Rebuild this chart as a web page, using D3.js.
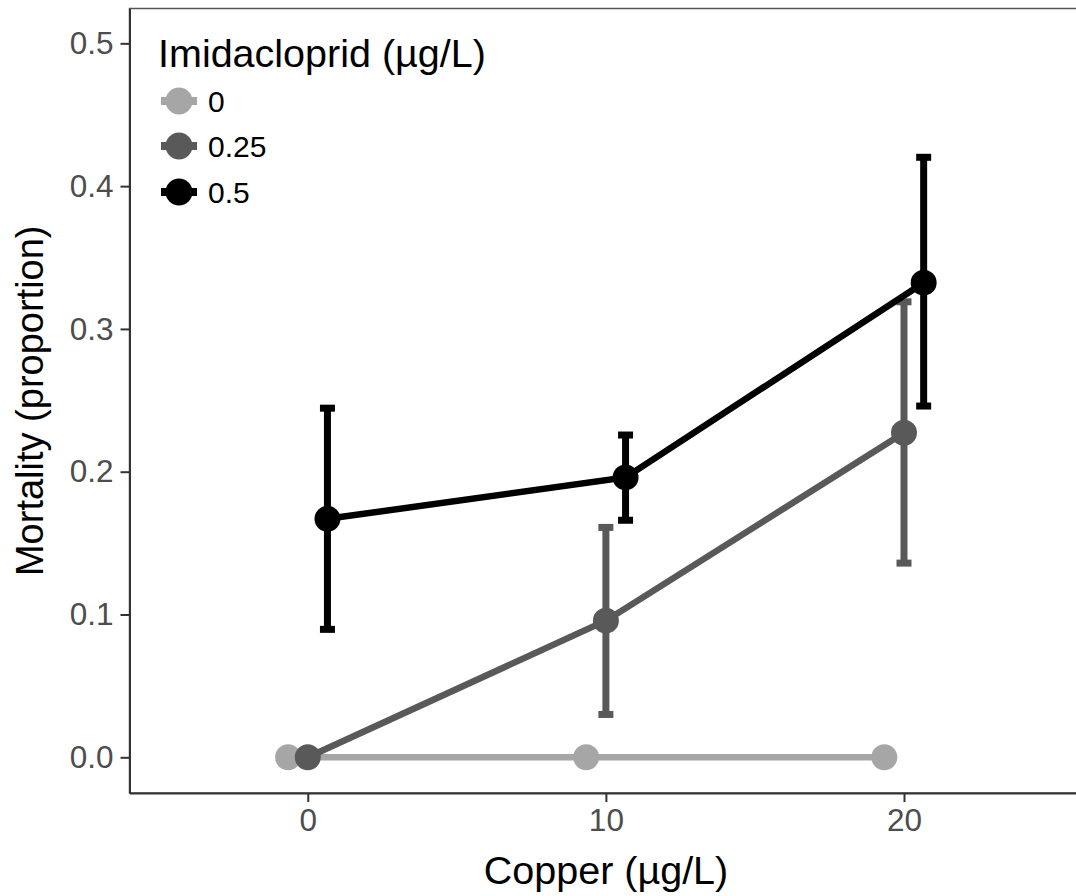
<!DOCTYPE html>
<html>
<head>
<meta charset="utf-8">
<script src="https://cdn.jsdelivr.net/npm/d3@7"></script>
<style>
  body { margin: 0; background: #fff; }
  text { font-family: "Liberation Sans", Arial, Helvetica, sans-serif; }
</style>
</head>
<body>
<div id="chart"></div>
<script>
// data
var copper = [0, 10, 20];
var imidaLevels = ["0", "0.25", "0.5"];
var imidaColors = ["#a6a6a6", "#595959", "#000000"];

var mort0 = [0, 0, 0];
var lower0 = [0, 0, 0];
var upper0 = [0, 0, 0];

var mort025 = [0, 0.0957, 0.2273];
var lower025 = [0, 0.030, 0.136];
var upper025 = [0, 0.161, 0.319];

var mort05 = [0.167, 0.196, 0.3324];
var lower05 = [0.0896, 0.166, 0.246];
var upper05 = [0.2445, 0.2257, 0.4202];

var yTicks = [0, 0.1, 0.2, 0.3, 0.4, 0.5];
var xTicks = [0, 10, 20];

var svgWidth = 1076;
var svgHeight = 896;
var margin = { top: 8.5, right: 0, bottom: 103, left: 129.5 };
var width = svgWidth - margin.left - margin.right;
var height = svgHeight - margin.top - margin.bottom;

var svg = d3.select("#chart")
  .append("svg")
  .attr("width", svgWidth)
  .attr("height", svgHeight);

var chartGroup = svg.append("g")
  .attr("transform", `translate(${margin.left}, ${margin.top})`);

// build series
var series = [
  { level: imidaLevels[0], color: imidaColors[0], dodge: -0.66, y: mort0, lo: lower0, hi: upper0 },
  { level: imidaLevels[1], color: imidaColors[1], dodge: 0, y: mort025, lo: lower025, hi: upper025 },
  { level: imidaLevels[2], color: imidaColors[2], dodge: 0.66, y: mort05, lo: lower05, hi: upper05 }
];
series.forEach(function(s) {
  s.points = copper.map(function(c, i) {
    return { x: c + s.dodge, y: s.y[i], lo: s.lo[i], hi: s.hi[i] };
  });
});

var xScale = d3.scaleLinear().domain([-5.98, 25.77]).range([0, width]);
var yScale = d3.scaleLinear().domain([-0.025, 0.5244]).range([height, 0]);

// panel border (top edge visible, right edge off-image)
chartGroup.append("rect")
  .attr("x", 0).attr("y", 0)
  .attr("width", width + 10).attr("height", height)
  .attr("fill", "none")
  .attr("stroke", "#555")
  .attr("stroke-width", 1.5);

// axes
var bottomAxis = d3.axisBottom(xScale).tickValues(xTicks).tickSize(9).tickSizeOuter(0).tickPadding(7);
var leftAxis = d3.axisLeft(yScale).tickValues(yTicks).tickSize(9).tickSizeOuter(0).tickPadding(7)
  .tickFormat(d3.format(".1f"));

var xAxisG = chartGroup.append("g")
  .attr("transform", `translate(0, ${height})`)
  .call(bottomAxis);
var yAxisG = chartGroup.append("g").call(leftAxis);

[xAxisG, yAxisG].forEach(function(g) {
  g.select(".domain").attr("stroke", "#333").attr("stroke-width", 2);
  g.selectAll(".tick line").attr("stroke", "#333").attr("stroke-width", 2);
  g.selectAll(".tick text")
    .attr("fill", "#4d4d4d")
    .style("font-size", "31.5px");
});

var lineGen = d3.line()
  .x(d => xScale(d.x))
  .y(d => yScale(d.y));

var capHalf = 7.5;

series.forEach(function(s) {
  var g = chartGroup.append("g");

  // error bars
  var eb = g.selectAll(".eb").data(s.points).enter().append("g");
  eb.append("line")
    .attr("x1", d => xScale(d.x)).attr("x2", d => xScale(d.x))
    .attr("y1", d => yScale(d.lo)).attr("y2", d => yScale(d.hi))
    .attr("stroke", s.color).attr("stroke-width", 7);
  eb.append("line")
    .attr("x1", d => xScale(d.x) - capHalf).attr("x2", d => xScale(d.x) + capHalf)
    .attr("y1", d => yScale(d.hi)).attr("y2", d => yScale(d.hi))
    .attr("stroke", s.color).attr("stroke-width", 7);
  eb.append("line")
    .attr("x1", d => xScale(d.x) - capHalf).attr("x2", d => xScale(d.x) + capHalf)
    .attr("y1", d => yScale(d.lo)).attr("y2", d => yScale(d.lo))
    .attr("stroke", s.color).attr("stroke-width", 7);

  // line
  g.append("path")
    .datum(s.points)
    .attr("d", lineGen)
    .attr("fill", "none")
    .attr("stroke", s.color)
    .attr("stroke-width", 6.5);

  // points
  g.selectAll("circle").data(s.points).enter().append("circle")
    .attr("cx", d => xScale(d.x))
    .attr("cy", d => yScale(d.y))
    .attr("r", 13)
    .attr("fill", s.color);
});

// axis titles
svg.append("text")
  .attr("transform", "rotate(-90)")
  .attr("x", -(margin.top + height / 2))
  .attr("y", 43)
  .attr("text-anchor", "middle")
  .attr("fill", "#000")
  .style("font-size", "38px")
  .text("Mortality (proportion)");

svg.append("text")
  .attr("x", 606)
  .attr("y", 884)
  .attr("text-anchor", "middle")
  .attr("fill", "#000")
  .style("font-size", "39.5px")
  .text("Copper (µg/L)");

// legend
var legend = svg.append("g").attr("transform", "translate(158, 0)");
legend.append("text")
  .attr("x", 0).attr("y", 67)
  .attr("fill", "#000")
  .style("font-size", "39.5px")
  .text("Imidacloprid (µg/L)");

var keyY = [101, 146, 192];
series.forEach(function(s, i) {
  var k = legend.append("g").attr("transform", `translate(0, ${keyY[i]})`);
  k.append("line")
    .attr("x1", 3).attr("x2", 39)
    .attr("y1", 0).attr("y2", 0)
    .attr("stroke", s.color).attr("stroke-width", 8);
  k.append("circle")
    .attr("cx", 21).attr("cy", 0).attr("r", 13.5)
    .attr("fill", s.color);
  k.append("text")
    .attr("x", 50).attr("y", 11)
    .attr("fill", "#000")
    .style("font-size", "30px")
    .text(s.level);
});
</script>
</body>
</html>
